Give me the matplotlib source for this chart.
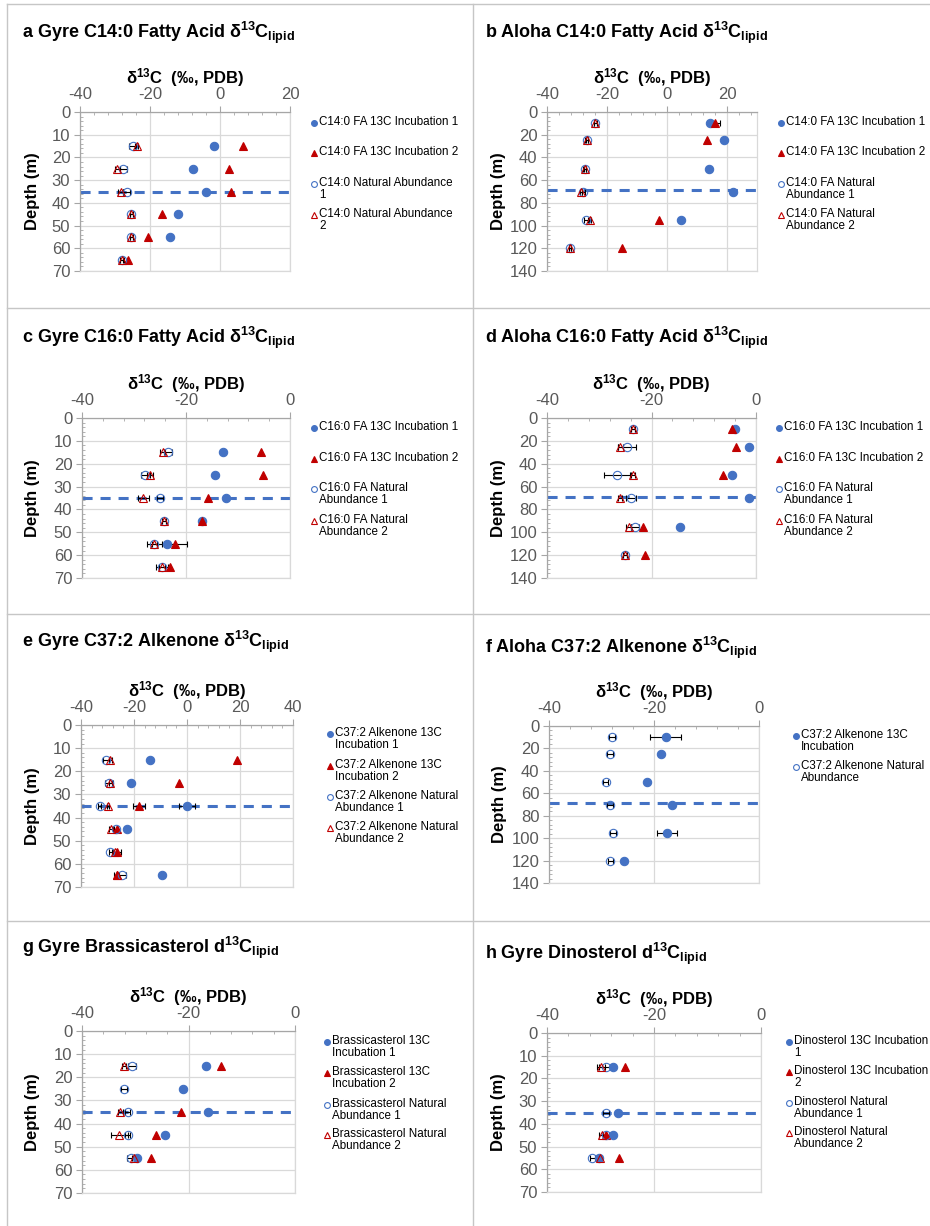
import numpy as np
import matplotlib.pyplot as plt
from matplotlib.lines import Line2D
from matplotlib.ticker import MultipleLocator

plt.rcParams['font.family'] = ['Liberation Sans', 'DejaVu Sans']
plt.rcParams['mathtext.fontset'] = 'custom'
plt.rcParams['mathtext.rm'] = 'Liberation Sans'
plt.rcParams['mathtext.bf'] = 'Liberation Sans:bold'
plt.rcParams['mathtext.it'] = 'Liberation Sans:italic'
plt.rcParams['axes.unicode_minus'] = False

nan = np.nan
BLUE = '#4472C4'
RED = '#C00000'
GRAY_TXT = '#595959'

W, H = 930, 1226

# sampling depths (m)
gyre_depth = [15, 25, 35, 45, 55, 65]
aloha_depth = [10, 25, 50, 70, 95, 120]
sterol_depth = [15, 25, 35, 45, 55]
dino_depth = [15, 35, 45, 55]

# mixed layer depth (m)
gyre_mld = 35
aloha_mld = 69

# a Gyre C14:0 fatty acid
a_inc1 = [-1.7, -7.6, -4.1, -12.1, -14.3, nan]
a_inc2 = [6.7, 2.7, 3.1, -16.7, -20.5, -26.4]
a_na1 = [-25.0, -27.6, -26.7, -25.4, -25.4, -28.1]
a_na2 = [-23.8, -29.3, -28.4, -25.4, -25.4, -28.1]
a_na1_err = [0.9, 0.9, 1.0, 0.4, 0.4, 0.6]
a_na2_err = [0.5, 0.6, 0.8, 0.4, 0.4, 0.5]

# b Aloha C14:0 fatty acid
b_inc1 = [14.4, 18.9, 14.0, 22.0, 4.8, nan]
b_inc2 = [16.0, 13.4, nan, nan, -2.8, -14.9]
b_inc2_err = [1.5, 0, 0, 0, 0, 0]
b_na1 = [-23.9, -26.7, -27.4, -28.0, -26.9, -32.4]
b_na2 = [-23.9, -26.7, -27.4, -28.6, -25.8, -32.4]
b_na1_err = [0.5, 0.5, 0.5, 0.5, 0.8, 0.4]
b_na2_err = [0.4, 0.4, 0.4, 0.4, 0.5, 0.4]

# c Gyre C16:0 fatty acid
c_inc1 = [-12.8, -14.4, -12.3, -17.0, -23.7, nan]
c_inc2 = [-5.6, -5.2, -15.7, -17.0, -22.1, -23.0]
c_inc2_err = [0, 0, 0, 0, 2.2, 0]
c_na1 = [-23.4, -27.8, -25.0, -24.2, -26.1, -24.6]
c_na2 = [-24.5, -26.9, -28.2, -24.2, -26.1, -24.6]
c_na1_err = [0.8, 0.8, 0.6, 0.4, 0.5, 0.5]
c_na2_err = [0.5, 0.6, 1.1, 0.4, 1.4, 1.2]

# d Aloha C16:0 fatty acid
d_inc1 = [-4.0, -1.3, -4.6, -1.3, -14.5, nan]
d_inc2 = [-4.6, -3.9, -6.4, nan, -21.7, -21.2]
d_na1 = [-23.6, -24.7, -26.6, -23.9, -23.1, -25.0]
d_na2 = [-23.6, -26.0, -23.6, -26.0, -24.4, -25.0]
d_na1_err = [0.4, 1.7, 2.4, 1.0, 0.8, 0.4]
d_na2_err = [0.4, 0.5, 0.4, 0.4, 0.4, 0.4]

# e Gyre C37:2 alkenone
e_inc1 = [-14.1, -21.0, 0.0, -22.5, nan, -9.5]
e_inc2 = [19.0, -2.9, -18.1, -26.6, -26.4, -26.4]
e_inc1_err = [0, 0, 3.0, 0, 0, 0]
e_inc2_err = [0, 0, 2.4, 0, 1.5, 0]
e_na1 = [-30.6, -29.4, -32.9, -26.9, -28.9, -24.4]
e_na2 = [-28.9, -28.9, -29.8, -28.5, -27.3, -26.6]
e_na1_err = [1.0, 1.5, 0.5, 1.0, 0.6, 1.5]
e_na2_err = [0.5, 0.6, 0.5, 0.8, 0.5, 0.8]

# f Aloha C37:2 alkenone
f_inc = [-17.8, -18.6, -21.3, -16.5, -17.5, -25.8]
f_inc_err = [2.9, 0, 0, 0, 1.9, 0]
f_na = [-28.0, -28.4, -29.2, -28.4, -27.8, -28.3]
f_na_err = [0.5, 0.5, 0.5, 0.5, 0.5, 0.5]

# g Gyre brassicasterol
g_inc1 = [-16.75, -21.1, -16.4, -24.5, -29.7]
g_inc2 = [-13.9, nan, -21.4, -26.1, -27.0]
g_na1 = [-30.6, -32.1, -31.4, -31.4, -30.8]
g_na2 = [-32.1, nan, -32.8, -33.0, -30.2]
g_na1_err = [0.8, 0.5, 0.5, 0.5, 0.8]
g_na2_err = [0.4, 0, 0.5, 1.6, 0.4]

# h Gyre dinosterol
h_inc1 = [-27.75, -26.8, -27.6, -30.25]
h_inc2 = [-25.4, nan, -28.9, -26.5]
h_na1 = [-28.9, -29.0, -29.0, -31.5]
h_na2 = [-29.9, nan, -29.7, -30.1]
h_na1_err = [1.3, 0.6, 0.5, 0.5]
h_na2_err = [0.8, 0, 0.5, 0.4]

STYLE = {
    'inc1': dict(marker='o', ms=6.0, mfc=BLUE, mec=BLUE, mew=0.8),
    'inc2': dict(marker='^', ms=6.2, mfc=RED, mec=RED, mew=0.8),
    'na1': dict(marker='o', ms=6.0, mfc='none', mec=BLUE, mew=0.8),
    'na2': dict(marker='^', ms=6.2, mfc='none', mec=RED, mew=0.8),
}


def fx(x):
    return x / W


def fy(y):
    return 1 - y / H


def title_text(letter, name, d='δ'):
    return (letter + ' ' + name + ' ' + d +
            r'$^{\mathbf{13}}$C$_{\mathbf{lipid}}$')


panels = [
    dict(title=title_text('a', 'Gyre C14:0 Fatty Acid'), tpos=(22, 33),
         rect=(80, 112, 290, 271), xlim=(-40, 20), ylim=70, mld=gyre_mld,
         depth=gyre_depth,
         series=[('inc1', a_inc1, None, 'C14:0 FA 13C Incubation 1'),
                 ('inc2', a_inc2, None, 'C14:0 FA 13C Incubation 2'),
                 ('na1', a_na1, a_na1_err, 'C14:0 Natural Abundance\n1'),
                 ('na2', a_na2, a_na2_err, 'C14:0 Natural Abundance\n2')],
         leg=(314, [123, 153, 184, 215])),
    dict(title=title_text('b', 'Aloha C14:0 Fatty Acid'), tpos=(485, 33),
         rect=(547, 112, 757, 271), xlim=(-40, 30), ylim=140, mld=aloha_mld,
         depth=aloha_depth,
         series=[('inc1', b_inc1, None, 'C14:0 FA 13C Incubation 1'),
                 ('inc2', b_inc2, b_inc2_err, 'C14:0 FA 13C Incubation 2'),
                 ('na1', b_na1, b_na1_err, 'C14:0 FA Natural\nAbundance 1'),
                 ('na2', b_na2, b_na2_err, 'C14:0 FA Natural\nAbundance 2')],
         leg=(781, [123, 153, 184, 215])),
    dict(title=title_text('c', 'Gyre C16:0 Fatty Acid'), tpos=(22, 338),
         rect=(82, 418, 290, 578), xlim=(-40, 0), ylim=70, mld=gyre_mld,
         depth=gyre_depth,
         series=[('inc1', c_inc1, None, 'C16:0 FA 13C Incubation 1'),
                 ('inc2', c_inc2, c_inc2_err, 'C16:0 FA 13C Incubation 2'),
                 ('na1', c_na1, c_na1_err, 'C16:0 FA Natural\nAbundance 1'),
                 ('na2', c_na2, c_na2_err, 'C16:0 FA Natural\nAbundance 2')],
         leg=(314, [428, 459, 489, 521])),
    dict(title=title_text('d', 'Aloha C16:0 Fatty Acid'), tpos=(485, 338),
         rect=(547, 418, 756, 578), xlim=(-40, 0), ylim=140, mld=aloha_mld,
         depth=aloha_depth,
         series=[('inc1', d_inc1, None, 'C16:0 FA 13C Incubation 1'),
                 ('inc2', d_inc2, None, 'C16:0 FA 13C Incubation 2'),
                 ('na1', d_na1, d_na1_err, 'C16:0 FA Natural\nAbundance 1'),
                 ('na2', d_na2, d_na2_err, 'C16:0 FA Natural\nAbundance 2')],
         leg=(779, [428, 459, 489, 521])),
    dict(title=title_text('e', 'Gyre C37:2 Alkenone'), tpos=(22, 642),
         rect=(81, 725, 293, 887), xlim=(-40, 40), ylim=70, mld=gyre_mld,
         depth=gyre_depth,
         series=[('inc1', e_inc1, e_inc1_err, 'C37:2 Alkenone 13C\nIncubation 1'),
                 ('inc2', e_inc2, e_inc2_err, 'C37:2 Alkenone 13C\nIncubation 2'),
                 ('na1', e_na1, e_na1_err, 'C37:2 Alkenone Natural\nAbundance 1'),
                 ('na2', e_na2, e_na2_err, 'C37:2 Alkenone Natural\nAbundance 2')],
         leg=(330, [734, 766, 797, 828])),
    dict(title=title_text('f', 'Aloha C37:2 Alkenone'), tpos=(485, 648),
         rect=(549, 726, 759, 883), xlim=(-40, 0), ylim=140, mld=aloha_mld,
         depth=aloha_depth,
         series=[('inc1', f_inc, f_inc_err, 'C37:2 Alkenone 13C\nIncubation'),
                 ('na1', f_na, f_na_err, 'C37:2 Alkenone Natural\nAbundance')],
         leg=(796, [736, 767])),
    dict(title=title_text('g', 'Gyre Brassicasterol', 'd'), tpos=(22, 948),
         rect=(82, 1031, 295, 1193), xlim=(-40, 0), ylim=70, mld=gyre_mld,
         depth=sterol_depth,
         series=[('inc1', g_inc1, None, 'Brassicasterol 13C\nIncubation 1'),
                 ('inc2', g_inc2, None, 'Brassicasterol 13C\nIncubation 2'),
                 ('na1', g_na1, g_na1_err, 'Brassicasterol Natural\nAbundance 1'),
                 ('na2', g_na2, g_na2_err, 'Brassicasterol Natural\nAbundance 2')],
         leg=(327, [1042, 1073, 1105, 1135])),
    dict(title=title_text('h', 'Gyre Dinosterol', 'd'), tpos=(485, 954),
         rect=(547, 1033, 761, 1192), xlim=(-40, 0), ylim=70, mld=gyre_mld,
         depth=dino_depth,
         series=[('inc1', h_inc1, None, 'Dinosterol 13C Incubation\n1'),
                 ('inc2', h_inc2, None, 'Dinosterol 13C Incubation\n2'),
                 ('na1', h_na1, h_na1_err, 'Dinosterol Natural\nAbundance 1'),
                 ('na2', h_na2, h_na2_err, 'Dinosterol Natural\nAbundance 2')],
         leg=(789, [1042, 1072, 1103, 1133])),
]

fig = plt.figure(figsize=(W / 100, H / 100), dpi=100)

# table frame
line_kw = dict(transform=fig.transFigure, color='#c6c6c6', lw=1.0)
for x in (7, 473):
    fig.add_artist(Line2D([fx(x), fx(x)], [0, fy(4)], **line_kw))
for y in (4, 308, 614, 921):
    fig.add_artist(Line2D([fx(7), 1], [fy(y), fy(y)], **line_kw))

for p in panels:
    x0, y0, x1, y1 = p['rect']
    ax = fig.add_axes([fx(x0), fy(y1), fx(x1) - fx(x0), fy(y0) - fy(y1)])
    ax.set_xlim(*p['xlim'])
    ax.set_ylim(p['ylim'], 0)
    ax.xaxis.set_major_locator(MultipleLocator(20))
    ax.xaxis.set_minor_locator(MultipleLocator(4))
    ymaj = 10 if p['ylim'] == 70 else 20
    ax.yaxis.set_major_locator(MultipleLocator(ymaj))
    ax.yaxis.set_minor_locator(MultipleLocator(ymaj / 5))
    ax.xaxis.tick_top()
    ax.grid(True, which='major', color='#d9d9d9', lw=0.9)
    ax.set_axisbelow(True)
    for side in ('right', 'bottom'):
        ax.spines[side].set_color('#d9d9d9')
        ax.spines[side].set_linewidth(0.9)
    for side in ('left', 'top'):
        ax.spines[side].set_color('#a6a6a6')
        ax.spines[side].set_linewidth(0.9)
    ax.tick_params(which='major', direction='out', length=4, width=0.8,
                   color='#a6a6a6', labelsize=12, labelcolor=GRAY_TXT, pad=3)
    ax.tick_params(which='minor', direction='in', length=2.5, width=0.6,
                   color='#a6a6a6')
    ax.tick_params(axis='x', which='both', top=True, bottom=False)

    ax.axhline(p['mld'], color=BLUE, lw=2.2, ls=(0, (3.3, 2.6)), zorder=2)

    for key, vals, err, label in p['series']:
        st = STYLE[key]
        ax.errorbar(vals, p['depth'], xerr=err, ls='none', ecolor='black',
                    elinewidth=0.8, capsize=2, capthick=0.8, zorder=3, **st)

    # axis titles placed in pixels relative to the panel cell
    col_x = 7 if x0 < 473 else 473
    ax.xaxis.set_label_position('top')
    ax.set_xlabel(r'δ$^{\mathbf{13}}$C  (‰, PDB)', fontsize=12,
                  fontweight='bold')
    ax.xaxis.set_label_coords(0.5, 1 + 34 / (y1 - y0))
    ax.xaxis.label.set_va('center')
    ax.set_ylabel('Depth (m)', fontsize=12, fontweight='bold')
    ax.yaxis.set_label_coords((col_x + 26 - x0) / (x1 - x0), 0.5)
    ax.yaxis.label.set_va('center')

    fig.text(fx(p['tpos'][0]), fy(p['tpos'][1]), p['title'], fontsize=13,
             fontweight='bold', va='center', ha='left')

    # legend entries, marker beside the first text line
    lx, ly = p['leg']
    for (key, vals, err, label), yy in zip(p['series'], ly):
        st = dict(STYLE[key])
        st['ms'] = 4.2
        fig.add_artist(Line2D([fx(lx)], [fy(yy)], transform=fig.transFigure,
                              ls='none', **st))
        fig.text(fx(lx + 5), fy(yy - 7), label, fontsize=8.4, va='top',
                 ha='left', linespacing=1.05)

fig.savefig('out.png', dpi=100)
